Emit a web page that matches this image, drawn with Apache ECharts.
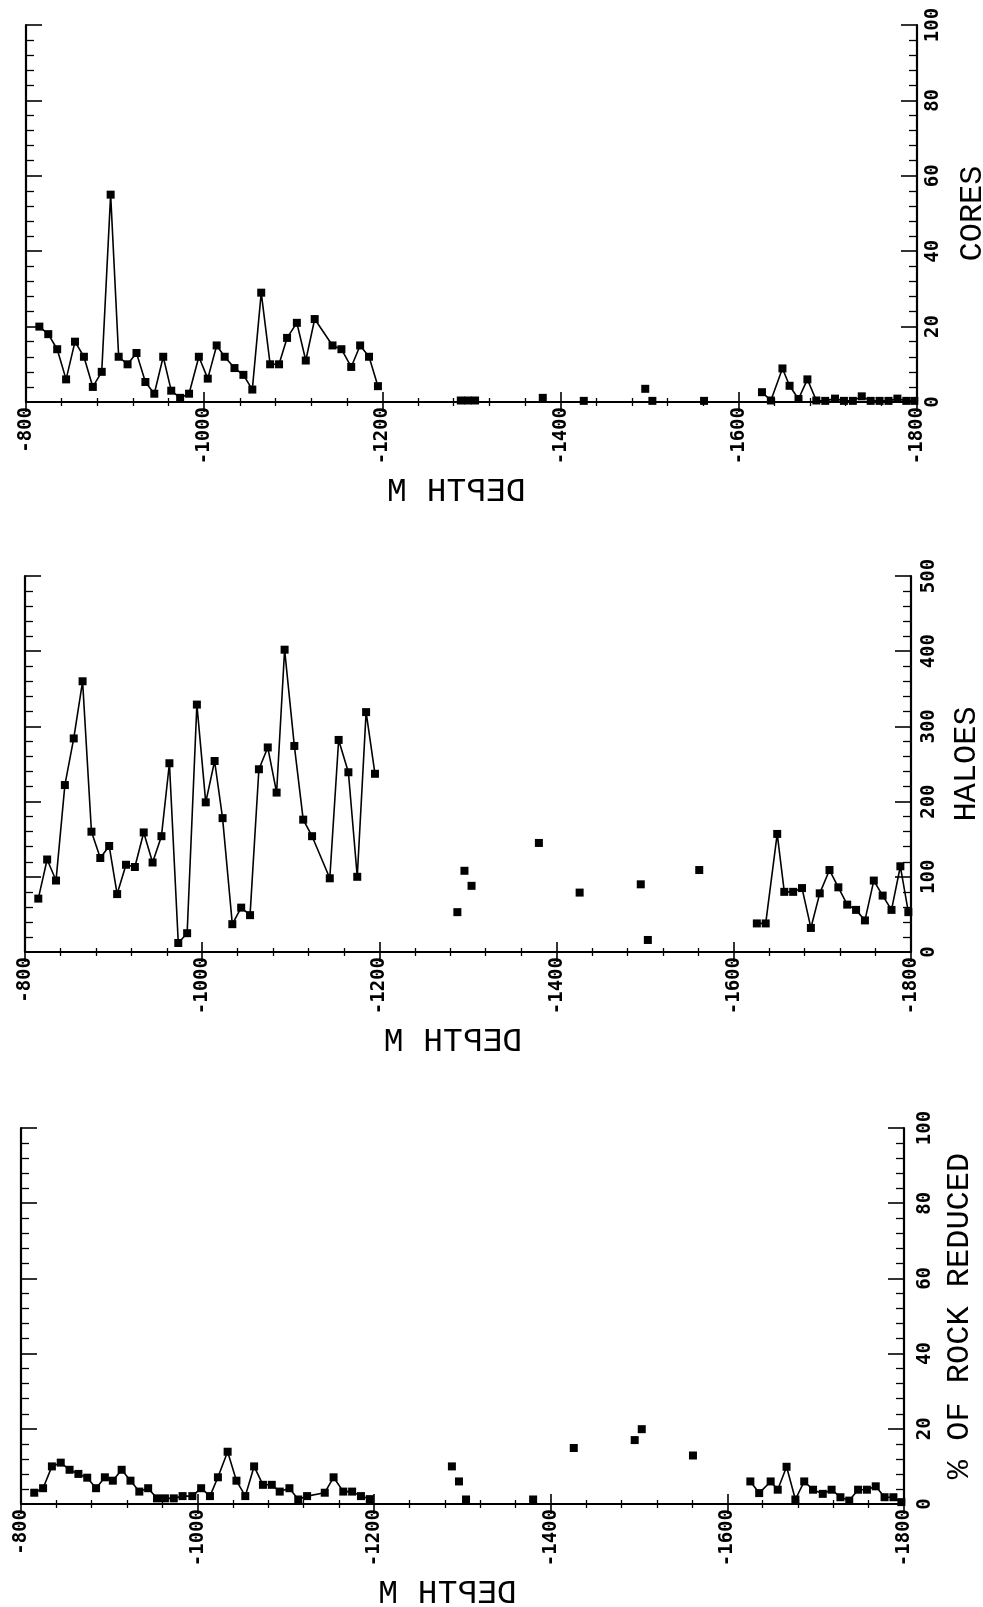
<!DOCTYPE html>
<html>
<head>
<meta charset="utf-8">
<script src="https://cdn.jsdelivr.net/npm/echarts@6/dist/echarts.min.js"></script>
<style>
  html, body { margin: 0; background: #fff; }
  #chart { width: 983px; height: 1607px; }
</style>
</head>
<body>
<div id="chart"></div>
<script>
// sample depths (m), shared by the three logs
const mainDepth = [-815, -825, -835, -845, -855, -865, -875, -885, -895, -904, -914, -924, -934, -944, -954, -963, -973, -983, -994, -1004,
  -1014, -1023, -1034, -1044, -1054, -1064, -1074, -1084, -1093, -1104, -1114, -1124, -1144, -1154, -1165, -1175, -1185, -1195];
const isoDepth = [-1288, -1296, -1304, -1380, -1426, -1495, -1503, -1561];
const deepDepth = [-1626, -1636, -1649, -1657, -1667, -1677, -1687, -1697, -1708, -1718, -1728, -1738, -1748, -1758, -1768, -1778, -1788, -1797];

// CORES
const coresMain = [20, 18, 14, 6, 16, 12, 4, 8, 55, 12, 10, 13, 5.3, 2.2, 12, 3, 1.1, 2.2, 12, 6.2,
  15, 12, 9, 7.2, 3.3, 29, 10, 10, 17, 21, 11, 22, 15, 14, 9.3, 15, 12, 4.2];
const coresIso = [0.4, 0.4, 0.4, 1.1, 0.3, 3.5, 0.3, 0.3];
const coresDeep = [2.6, 0.4, 8.9, 4.3, 0.8, 6, 0.4, 0.3, 0.9, 0.3, 0.3, 1.5, 0.3, 0.3, 0.3, 0.9, 0.3, 0.3];

// HALOES
const haloesMain = [71, 123, 95, 222, 284, 360, 160, 125, 141, 77, 116, 113, 159, 119, 154, 251, 12, 25, 329, 199,
  254, 178, 37, 59, 49, 243, 272, 212, 402, 274, 176, 154, 98, 282, 239, 100, 319, 237];
const haloesIso = [53, 108, 88, 145, 79, 90, 16, 109];
const haloesDeep = [38, 38, 157, 80, 80, 85, 32, 78, 109, 86, 63, 56, 42, 95, 75, 56, 114, 53];

// % OF ROCK REDUCED
const rockMain = [3, 4.2, 10, 11, 9.1, 8, 7, 4.2, 7.1, 6.2, 9.1, 6.2, 3.3, 4.2, 1.5, 1.5, 1.5, 2.1, 2.1, 4.2,
  2.1, 7.1, 13.9, 6.2, 2.1, 10, 5.1, 5.1, 3.3, 4.2, 1.2, 2.1, 3, 7.1, 3.3, 3.3, 2.1, 1.3];
const rockIso = [10, 6, 1.2, 1.2, 14.9, 17, 19.9, 12.9];
const rockDeep = [6, 2.9, 6, 3.8, 9.9, 1.2, 6, 3.8, 2.7, 3.8, 1.8, 0.9, 3.8, 3.8, 4.7, 1.8, 1.8, 0.5];

const depthTicks = { min: -1800, max: -800, interval: 200 };

const pair = (xs, ys) => xs.map((x, i) => [x, ys[i]]);

const panels = [
  { title: 'CORES', max: 100, interval: 20, main: coresMain, iso: coresIso, deep: coresDeep,
    box: { left: 26, top: 25, width: 891, height: 377 }, labelMargin: 7 },
  { title: 'HALOES', max: 500, interval: 100, main: haloesMain, iso: haloesIso, deep: haloesDeep,
    box: { left: 25, top: 576, width: 886, height: 376 }, labelMargin: 9 },
  { title: '% OF ROCK REDUCED', max: 100, interval: 20, main: rockMain, iso: rockIso, deep: rockDeep,
    box: { left: 21, top: 1128, width: 883, height: 376 }, labelMargin: 12 },
];

const tickFont = { fontFamily: 'DejaVu Sans Mono', fontWeight: 'bold', fontSize: 19, color: '#000' };
const nameFont = { fontFamily: 'Liberation Mono', fontSize: 32, color: '#000' };
const line = { lineStyle: { color: '#000', width: 2.2 } };

const grid = [], xAxis = [], yAxis = [], series = [], graphic = [];

panels.forEach((p, i) => {
  grid.push({ ...p.box, outerBoundsMode: 'none' });

  const xBase = {
    gridIndex: i, type: 'value', inverse: true, ...depthTicks,
    axisLine: line, splitLine: { show: false },
    axisTick: { inside: true, length: 10, lineStyle: { color: '#000', width: 1.6 } },
    minorTick: { show: true, splitNumber: 5, length: 4, lineStyle: { color: '#000', width: 1.3 } },
  };
  xAxis.push({
    ...xBase, position: 'bottom',
    axisLabel: { ...tickFont, rotate: 90, margin: 5, formatter: (v) => String(v) },
  });
  xAxis.push({ ...xBase, position: 'top', axisLabel: { show: false } });

  const yBase = {
    gridIndex: i, type: 'value', min: 0, max: p.max, interval: p.interval,
    axisLine: line, splitLine: { show: false },
    axisTick: { inside: true, length: 16, lineStyle: { color: '#000', width: 1.6 } },
    minorTick: { show: true, splitNumber: 5, length: 8, lineStyle: { color: '#000', width: 1.3 } },
  };
  yAxis.push({
    ...yBase, position: 'right',
    axisLabel: { ...tickFont, rotate: 90, margin: p.labelMargin, formatter: (v) => String(v) },
    name: p.title, nameLocation: 'middle', nameRotate: 90, nameGap: 40, nameTextStyle: nameFont,
  });
  yAxis.push({ ...yBase, position: 'left', axisLabel: { show: false } });

  const mark = {
    xAxisIndex: i * 2, yAxisIndex: i * 2, symbol: 'rect', symbolSize: 8,
    itemStyle: { color: '#000', opacity: 1 }, silent: true,
  };
  const lineMark = { ...mark, type: 'line', showSymbol: true, lineStyle: { color: '#000', width: 1.6 } };
  series.push({ ...lineMark, data: pair(mainDepth, p.main) });
  series.push({ ...lineMark, data: pair(deepDepth, p.deep) });
  series.push({ ...mark, type: 'scatter', data: pair(isoDepth, p.iso) });

  // mirrored axis title under each panel
  graphic.push({
    type: 'text',
    x: p.box.left + p.box.width * 0.483,
    y: p.box.top + p.box.height + 90,
    scaleX: -1,
    style: { text: 'DEPTH M', font: '33px "Liberation Mono"', fill: '#000', align: 'center', verticalAlign: 'middle' },
  });
});

const chart = echarts.init(document.getElementById('chart'));
chart.setOption({ animation: false, grid, xAxis, yAxis, series, graphic });
</script>
</body>
</html>
